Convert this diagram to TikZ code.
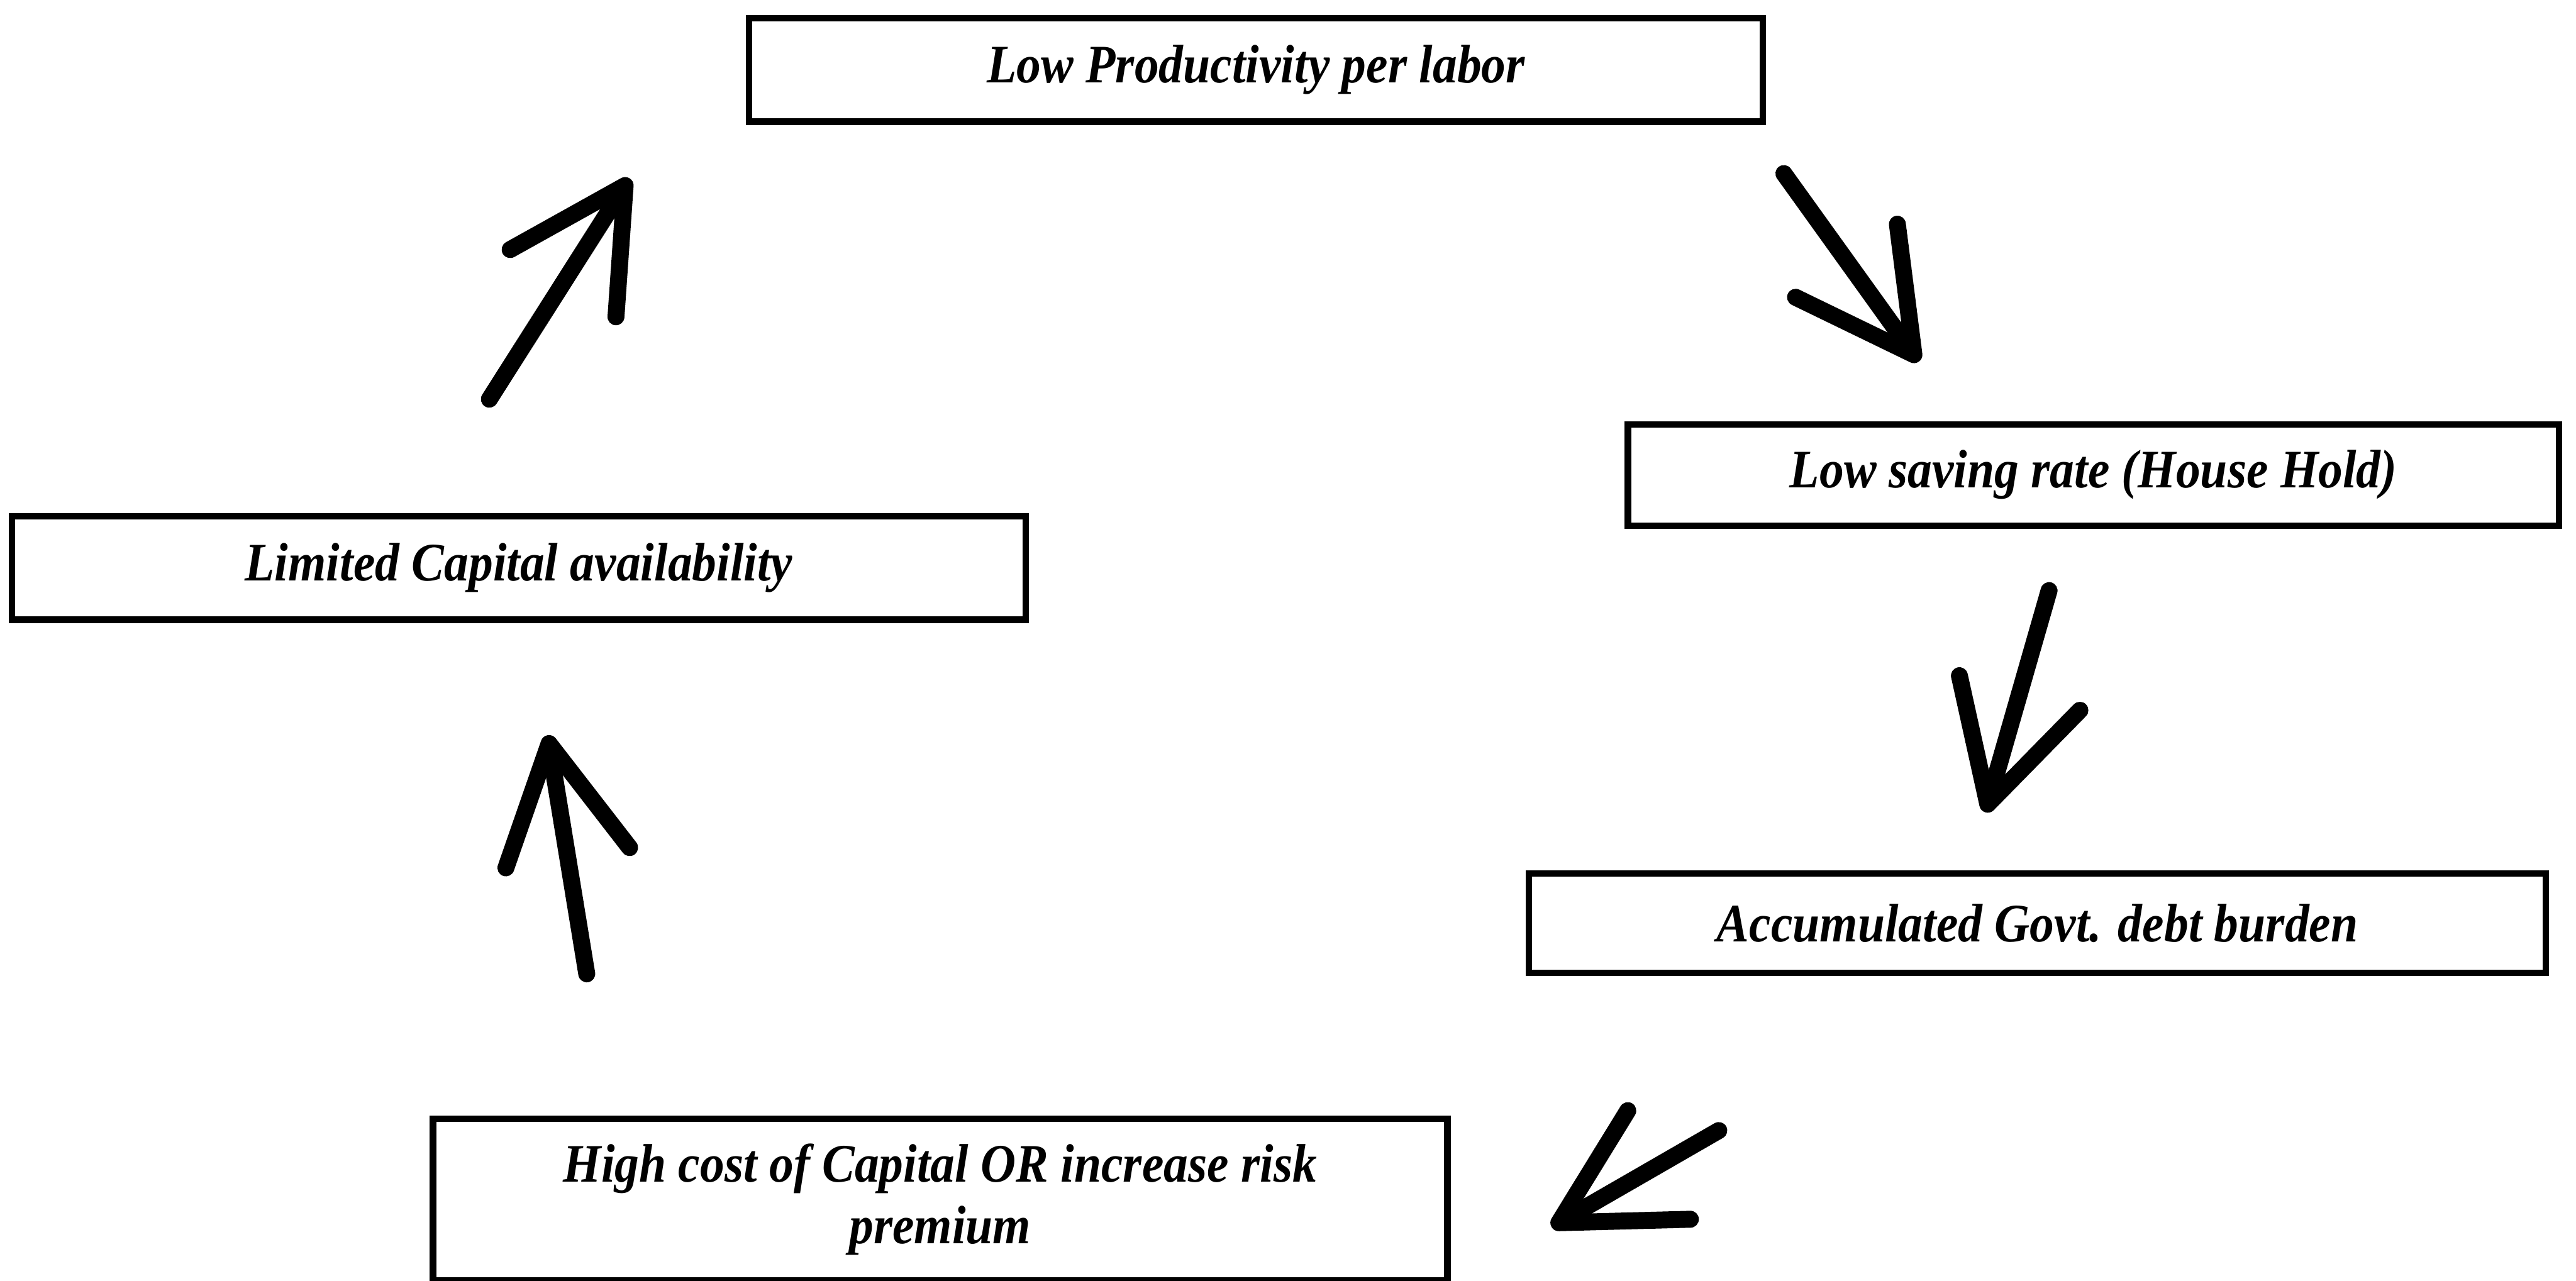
\documentclass[tikz,border=0pt]{standalone}
\usepackage{fontspec}
\setmainfont{Liberation Serif}[FakeStretch=0.9]
\usepackage{tikz}
\usetikzlibrary{arrows.meta}

\begin{document}
\begin{tikzpicture}[
  cycbox/.style={rectangle, draw=black, line width=3.8pt, inner sep=0pt,
    font=\fontsize{32}{36.4}\selectfont\bfseries\itshape, align=center},
  cycarrow/.style={line width=10pt, line cap=round,
    -{Straight Barb[length=2.4cm, width=2.6cm, line cap=round, line join=round]}},
]
  \useasboundingbox (0,0) rectangle (53.43,-26.57);

  % the five stages of the cycle
  \node[cycbox, minimum width=21.03cm, minimum height=2.15cm] (prod) at (26.05,-1.45) {Low Productivity per labor};
  \node[cycbox, minimum width=19.31cm, minimum height=2.10cm] (saving) at (43.42,-9.85) {Low saving rate (House Hold)};
  \node[cycbox, minimum width=21.09cm, minimum height=2.06cm] (debt) at (42.26,-19.15) {Accumulated Govt. debt burden};
  \node[cycbox, minimum width=21.04cm, minimum height=3.35cm] (cost) at (19.50,-24.88) {High cost of Capital OR increase risk\\premium};
  \node[cycbox, minimum width=21.03cm, minimum height=2.15cm] (capital) at (10.76,-11.78) {Limited Capital availability};

  % hand drawn arrows between the boxes
  \coordinate (a1s) at (10.15,-8.28);  \coordinate (a1e) at (13.06,-3.70);
  \coordinate (a2s) at (37.00,-3.60);  \coordinate (a2e) at (39.80,-7.50);
  \coordinate (a3s) at (42.50,-12.25); \coordinate (a3e) at (41.18,-16.85);
  \coordinate (a4s) at (35.65,-23.45); \coordinate (a4e) at (32.18,-25.45);
  \coordinate (a5s) at (12.17,-20.20); \coordinate (a5e) at (11.36,-15.25);

  \draw[cycarrow] (a1s) -- (a1e);
  \draw[cycarrow] (a2s) -- (a2e);
  \draw[cycarrow] (a3s) -- (a3e);
  \draw[cycarrow] (a4s) -- (a4e);
  \draw[cycarrow] (a5s) -- (a5e);
\end{tikzpicture}
\end{document}
